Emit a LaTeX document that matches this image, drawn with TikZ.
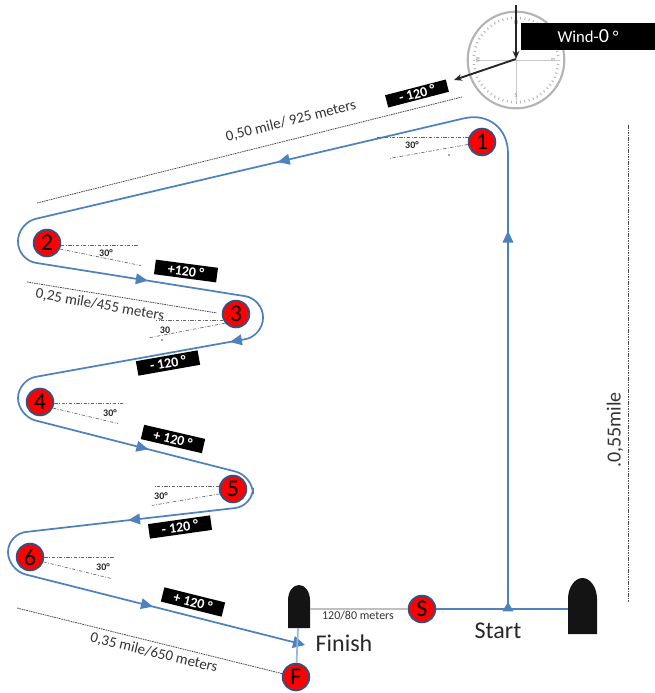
\documentclass[tikz,border=0pt]{standalone}
\usepackage{fontspec}
\setmainfont{Carlito}
\usetikzlibrary{arrows.meta,calc}
\definecolor{course}{RGB}{79,129,189}
\definecolor{markline}{RGB}{50,80,130}
\definecolor{finline}{RGB}{150,182,228}
\definecolor{cgrey}{RGB}{180,180,180}
\begin{document}
\begin{tikzpicture}[x=0.75pt,y=-0.75pt,
  courseline/.style={draw=course,line width=1.3pt},
  legarrow/.style={draw=course,line width=1.3pt,-{Triangle[length=9pt,width=8pt]}},
  buoy/.style={circle,fill=red,draw=markline,line width=1.4pt,minimum size=20pt,inner sep=0pt,font=\fontsize{18}{18}\selectfont},
  angbox/.style={fill=black,text=white,font=\bfseries\fontsize{10.5}{11}\selectfont,minimum width=47pt,minimum height=11pt,inner sep=0pt},
  anglbl/.style={font=\bfseries\fontsize{7.5}{8}\selectfont,text=black!85,inner sep=0pt},
  distlbl/.style={font=\fontsize{11.2}{13}\selectfont,text=black!80,inner sep=0pt},
  dashdot/.style={draw=black!60,line width=0.5pt,dash pattern=on 2.5pt off 1.2pt on 0.6pt off 1.2pt},
  fine/.style={draw=black!70,line width=0.6pt,dash pattern=on 1.2pt off 0.6pt},
  windarrow/.style={draw=black!85,line width=1.4pt,-{Stealth[length=6pt,width=5pt]}},
  boat/.style={fill=black!92}]
\useasboundingbox (0,0) rectangle (654,693);

% ---- compass ----
\node[circle,draw=cgrey,line width=1.6pt,minimum size=72.5pt,inner sep=0pt] (comp) at (516,60) {};
\foreach \a in {0,6,...,354}
  \draw[cgrey,line width=0.7pt] ($(comp.center)+(\a:41)$) -- ($(comp.center)+(\a:43.5)$);
\draw[cgrey!70,line width=0.6pt] (476,60) -- (560,60);
\draw[cgrey!70,line width=0.6pt] (comp.center) -- (516,100);
\node[font=\fontsize{4.5}{5}\selectfont,text=cgrey!80!black,inner sep=0pt] (cN) at (516,23) {N};
\node[font=\fontsize{4.5}{5}\selectfont,text=cgrey!80!black,inner sep=0pt,rotate=90] (cW) at (478,60) {W};
\node[font=\fontsize{4.5}{5}\selectfont,text=cgrey!80!black,inner sep=0pt,rotate=-90] (cE) at (553,60) {E};
\node[font=\fontsize{4.5}{5}\selectfont,text=cgrey!80!black,inner sep=0pt] (cS) at (516,96) {S};

\node[fill=black,minimum width=100pt,minimum height=20.25pt,inner sep=0pt,text=white,font=\fontsize{12.5}{14}\selectfont] (wind) at (588,36.5) {Wind-{\fontsize{15}{15}\selectfont 0} °};
\coordinate (wtop) at (516,5);
\coordinate (wc) at (516,59);
\coordinate (wdir) at (454,80);
\draw[windarrow] (wtop) -- (wc);
\draw[windarrow] (wc) -- (wdir);

% ---- distance lines ----
\coordinate (d1a) at (37,203); \coordinate (d1b) at (462,97);
\coordinate (d2a) at (27,282); \coordinate (d2b) at (217,313);
\coordinate (d3a) at (17,608);
\coordinate (d4a) at (628,125); \coordinate (d4b) at (628,602);
\draw[fine] (d1a) -- (d1b);
\draw[fine] (d2a) -- (d2b);
\draw[fine] (d4a) -- (d4b);
\node[distlbl,rotate=14] (l1) at (291,121) {0,50 mile/ 925 meters};
\node[distlbl,rotate=-10] (l2) at (100,305) {0,25 mile/455 meters};
\node[distlbl,rotate=-13.5] (l3) at (154,653) {0,35 mile/650 meters};
\node[font=\fontsize{15}{16}\selectfont,text=black!80,inner sep=0pt,rotate=90] (l4) at (615,430) {.0,55mile};

% ---- course ----
\coordinate (J0) at (508,609);
\coordinate (K1) at (508,108);
\coordinate (A) at (18,223);
\coordinate (B) at (18,260);
\coordinate (C) at (263,299);
\coordinate (D) at (263,336);
\coordinate (E) at (18,380);
\coordinate (Fc) at (18,416);
\coordinate (G) at (253,476);
\coordinate (H) at (253,506);
\coordinate (I) at (8,534);
\coordinate (Jc) at (8,570);
\coordinate (End) at (305,645);
\draw[courseline,-{Triangle[length=9pt,width=9pt]}] (J0) [rounded corners=34pt] -- (K1) [rounded corners=13.5pt] -- (A) -- (B) -- (C) -- (D) -- (E) -- (Fc) -- (G) -- (H) -- (I) -- (Jc) -- (End);

\draw[legarrow] ($(J0)!0.745!(K1)$) -- ($(J0)!0.755!(K1)$);
\draw[legarrow] ($(K1)!0.46!(A)$) -- ($(K1)!0.47!(A)$);
\draw[legarrow] ($(B)!0.52!(C)$) -- ($(B)!0.53!(C)$);
\draw[legarrow] ($(D)!0.125!(E)$) -- ($(D)!0.135!(E)$);
\draw[legarrow] ($(Fc)!0.545!(G)$) -- ($(Fc)!0.555!(G)$);
\draw[legarrow] ($(H)!0.5!(I)$) -- ($(H)!0.51!(I)$);
\draw[legarrow] ($(Jc)!0.478!(End)$) -- ($(Jc)!0.488!(End)$);

% ---- boats ----
\fill[boat] (288,628) -- (288,601) .. controls (288,591) and (293,585) .. (299,585) .. controls (305,585) and (310,591) .. (310,601) -- (310,628) -- cycle;
\fill[boat] (568,634) -- (568,599) .. controls (568,587) and (575,578) .. (582.5,578) .. controls (590,578) and (597,587) .. (597,599) -- (597,634) -- cycle;
\coordinate (lbE) at (310,609);
\coordinate (lbS) at (298,628);
\coordinate (rbW) at (568,609);

% ---- marks ----
\node[buoy] (m1) at (482,142) {1};
\node[buoy] (m2) at (47,243) {2};
\node[buoy] (m3) at (236,314) {3};
\node[buoy] (m4) at (40,402) {4};
\node[buoy] (m5) at (233,489) {5};
\node[buoy] (m6) at (30,557) {6};
\node[buoy] (mF) at (296,677) {F};
\node[buoy] (mS) at (422,609) {S};

\draw[fine] (d3a) -- (mF);
\draw[courseline] (mS) -- (rbW);
\draw[legarrow,-{Triangle[length=7pt,width=8pt]}] (J0) -- ($(J0)+(0,-7)$);
\draw[draw=black!25,line width=1pt] (lbE) -- (mS);
\draw[draw=finline,line width=1.3pt] (lbS) -- (mF);
\node[font=\fontsize{9}{10}\selectfont,text=black!80,inner sep=0pt] (lsf) at (358,616) {120/80 meters};
\node[font=\fontsize{18}{20}\selectfont,text=black!85,inner sep=0pt] (lst) at (498,631) {Start};
\node[font=\fontsize{18}{20}\selectfont,text=black!85,inner sep=0pt] (lfi) at (344,643) {Finish};

% ---- 30 degree sectors ----
\draw[dashdot] (m1.160) -- ++(-92,0);
\draw[dashdot] (m1.190) -- ++(-79,14);
\node[anglbl] (a1) at (412,145) {30°};
\fill[black!70] (449,155) circle (0.9);
\draw[dashdot] (m2.-10) -- ++(78,0);
\draw[dashdot] (m2.-25) -- ++(81,16.5);
\node[anglbl] (a2) at (106,253) {30°};
\draw[dashdot] (m3.205) -- ++(-67,0);
\draw[dashdot] (m3.220) -- ++(-76,14.6);
\node[anglbl] (a3) at (165,330) {30};
\fill[black!70] (162,340) circle (0.9);
\draw[dashdot] (m4.-5) -- ++(69,0);
\draw[dashdot] (m4.-25) -- ++(65,15.5);
\node[anglbl] (a4) at (110,413) {30°};
\draw[dashdot] (m5.170) -- ++(-65,0);
\draw[dashdot] (m5.200) -- ++(-67.8,11.6);
\node[anglbl] (a5) at (161,496) {30°};
\draw[dashdot] (m6.0) -- ++(70,0);
\draw[dashdot] (m6.-20) -- ++(67.8,16.6);
\node[anglbl] (a6) at (103,567) {30°};

% ---- heading boxes ----
\node[angbox,rotate=14.5,minimum height=9.5pt] (b1) at (417,93.5) {- 120 °};
\node[angbox,rotate=-7.5] (b2) at (186,271) {+120 °};
\node[angbox,rotate=10] (b3) at (168,363) {- 120 °};
\node[angbox,rotate=-13] (b4) at (173,439) {+ 120 °};
\node[angbox,rotate=8] (b5) at (180,527) {- 120 °};
\node[angbox,rotate=-14] (b6) at (193,602) {+ 120 °};
\end{tikzpicture}
\end{document}
